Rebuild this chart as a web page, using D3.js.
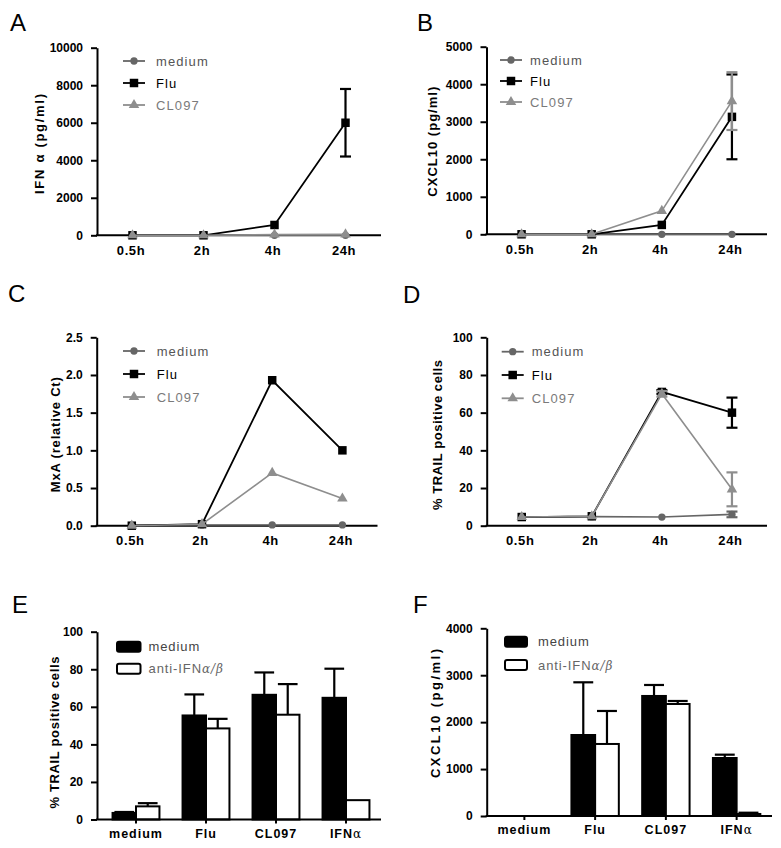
<!DOCTYPE html>
<html><head><meta charset="utf-8">
<script src="https://cdn.jsdelivr.net/npm/d3@7"></script>
<style>
html,body{margin:0;padding:0;background:#fff;}
svg{display:block;}
</style></head><body>
<svg id="fig" width="781" height="848"></svg>
<script>
// ---------- DATA ----------
const timepoints = ["0.5h", "2h", "4h", "24h"];
const lineSeriesNames = ["medium", "Flu", "CL097"];

// Panel A: IFN alpha (pg/ml)
const ifnMedium = [0, 0, 0, 0];
const ifnFlu = [0, 0, 550, 6000];
const ifnFluErr = [0, 0, 0, 1800];
const ifnCL097 = [0, 0, 40, 50];
const ifnTicks = [0, 2000, 4000, 6000, 8000, 10000];

// Panel B: CXCL10 (pg/ml)
const cxclMedium = [0, 0, 0, 0];
const cxclFlu = [0, 0, 250, 3130];
const cxclFluErr = [0, 0, 0, 1130];
const cxclCL097 = [0, 0, 625, 3550];
const cxclCL097Err = [0, 0, 0, 770];
const cxclTicks = [0, 1000, 2000, 3000, 4000, 5000];

// Panel C: MxA (relative Ct)
const mxaMedium = [0.005, 0.01, 0.01, 0.01];
const mxaFlu = [0, 0.02, 1.93, 1.0];
const mxaCL097 = [0, 0.02, 0.70, 0.36];
const mxaTicks = [0, 0.5, 1.0, 1.5, 2.0, 2.5];

// Panel D: % TRAIL positive cells
const trailMedium = [4.6, 4.8, 4.6, 6.0];
const trailMediumErr = [0, 0, 0, 1.5];
const trailFlu = [4.6, 5.0, 71, 60];
const trailFluErr = [0, 0, 1, 8];
const trailCL097 = [4.6, 5.0, 70, 19.3];
const trailCL097Err = [0, 0, 1.5, 9];
const pctTicks = [0, 20, 40, 60, 80, 100];

// Panels E, F: bar charts
const stimuli = ["medium", "Flu", "CL097", "IFNα"];
const treatments = ["medium", "anti-IFNα/β"];
const trailBarMedium = [3.5, 55.4, 66.4, 64.8];
const trailBarMediumErr = [0.5, 11.2, 11.9, 15.5];
const trailBarAnti = [7.0, 48.5, 55.8, 10.3];
const trailBarAntiErr = [1.7, 5.1, 16.3, 0];
const cxclBarMedium = [0, 1726, 2558, 1236];
const cxclBarMediumErr = [0, 1123, 234, 71];
const cxclBarAnti = [0, 1535, 2387, 43];
const cxclBarAntiErr = [0, 703, 64, 27];
const cxclBarTicks = [0, 1000, 2000, 3000, 4000];

// ---------- STYLE ----------
const FONT = '"Liberation Sans", Arial, Helvetica, sans-serif';
const COL = {medium: "#666666", Flu: "#000000", CL097: "#8e8e8e"};
const TXTCOL = {medium: "#555555", Flu: "#000000", CL097: "#7a7a7a"};
const SYM = {medium: d3.symbolCircle, Flu: d3.symbolSquare, CL097: d3.symbolTriangle};
const SYMSIZE = {medium: 42, Flu: 72, CL097: 48};

const svg = d3.select("#fig").attr("font-family", FONT);

function styleYAxis(g) {
  g.attr("font-family", FONT).attr("font-size", 12).attr("font-weight", "bold");
  g.select(".domain").attr("stroke", "#000").attr("stroke-width", 2);
  g.selectAll(".tick line").attr("stroke", "#000").attr("stroke-width", 2);
  g.selectAll(".tick text").attr("fill", "#000");
}

function drawYAxis(g, y, x0, ticks, fmt) {
  const a = g.append("g").attr("transform", `translate(${x0},0)`)
    .call(d3.axisLeft(y).tickValues(ticks).tickFormat(fmt).tickSize(6).tickSizeOuter(0).tickPadding(8));
  styleYAxis(a);
  return a;
}

function drawTitle(g, t) {
  g.append("text")
    .attr("transform", `translate(${t.x},${t.y}) rotate(-90)`)
    .attr("text-anchor", "middle")
    .attr("font-size", 13).attr("font-weight", "bold")
    .attr("textLength", t.len).attr("lengthAdjust", "spacing")
    .text(t.text);
}

function panelLetter(letter, x, y) {
  svg.append("text").attr("x", x).attr("y", y)
    .attr("font-size", 24).attr("fill", "#000").text(letter);
}

function linePanel(cfg) {
  const g = svg.append("g");
  const x = d3.scalePoint().domain(timepoints).range([cfg.x0, cfg.x1]).padding(0.5);
  const y = d3.scaleLinear().domain([0, cfg.max]).range([cfg.yBot, cfg.yTop]);

  drawYAxis(g, y, cfg.x0, cfg.ticks, cfg.fmt);

  const xa = g.append("g").attr("transform", `translate(0,${cfg.yBot})`)
    .call(d3.axisBottom(x).tickSize(0).tickPadding(10));
  xa.select(".domain").remove();
  xa.attr("font-family", FONT).attr("font-size", 13).attr("font-weight", "bold");
  xa.selectAll(".tick text").attr("fill", "#000").attr("dx", -2).attr("letter-spacing", "0.6px");
  g.append("line").attr("x1", cfg.x0 - 1).attr("x2", cfg.x1)
    .attr("y1", cfg.yBot).attr("y2", cfg.yBot)
    .attr("stroke", "#000").attr("stroke-width", 2);

  // series (medium, Flu, CL097 — CL097 drawn last / on top)
  cfg.series.forEach(s => {
    const pts = s.values.map((v, i) => ({t: timepoints[i], v, e: s.err ? s.err[i] : 0}));
    g.append("path").datum(pts)
      .attr("fill", "none").attr("stroke", COL[s.name])
      .attr("stroke-width", s.name === "Flu" ? 1.8 : 1.6)
      .attr("d", d3.line().x(d => x(d.t)).y(d => y(d.v)));
    const eb = pts.filter(d => d.e > 0);
    eb.forEach(d => {
      const cx = x(d.t);
      g.append("line").attr("x1", cx).attr("x2", cx)
        .attr("y1", y(d.v - d.e)).attr("y2", y(d.v + d.e))
        .attr("stroke", COL[s.name]).attr("stroke-width", 2.2);
      [d.v - d.e, d.v + d.e].forEach(val => {
        g.append("line").attr("x1", cx - 5.5).attr("x2", cx + 5.5)
          .attr("y1", y(val)).attr("y2", y(val))
          .attr("stroke", COL[s.name]).attr("stroke-width", 2.2);
      });
    });
    g.selectAll(null).data(pts).enter().append("path")
      .attr("transform", d => `translate(${x(d.t)},${y(d.v)})`)
      .attr("d", d3.symbol().type(SYM[s.name]).size(SYMSIZE[s.name]))
      .attr("fill", COL[s.name]);
  });

  // legend
  const L = cfg.legend;
  lineSeriesNames.forEach((n, i) => {
    const yy = L.y + i * L.dy;
    g.append("line").attr("x1", L.x).attr("x2", L.x + 22).attr("y1", yy).attr("y2", yy)
      .attr("stroke", COL[n]).attr("stroke-width", 1.8);
    g.append("path").attr("transform", `translate(${L.x + 11},${yy})`)
      .attr("d", d3.symbol().type(SYM[n]).size(SYMSIZE[n]))
      .attr("fill", COL[n]);
    g.append("text").attr("x", L.tx).attr("y", yy).attr("dy", "0.36em")
      .attr("font-size", 13).attr("letter-spacing", "1.1px")
      .attr("fill", TXTCOL[n]).text(n);
  });

  drawTitle(g, cfg.title);
}

function barPanel(cfg) {
  const g = svg.append("g");
  const x0 = d3.scaleBand().domain(stimuli).range(cfg.band).paddingInner(0.33).paddingOuter(0.165);
  const x1 = d3.scaleBand().domain(treatments).range([0, x0.bandwidth()]);
  const y = d3.scaleLinear().domain([0, cfg.max]).range([cfg.yBot, cfg.yTop]);

  drawYAxis(g, y, cfg.x0, cfg.ticks, d3.format("d"));

  const xa = g.append("g").attr("transform", `translate(0,${cfg.yBot})`)
    .call(d3.axisBottom(x0).tickSize(4).tickPadding(5.5).tickFormat(d => d === "IFNα" ? "IFN" : d));
  xa.select(".domain").remove();
  xa.attr("font-family", FONT).attr("font-size", 12.5).attr("font-weight", "bold");
  xa.selectAll(".tick line").attr("stroke", "#000").attr("stroke-width", 2);
  xa.selectAll(".tick text").attr("fill", "#000").attr("letter-spacing", "1px");
  xa.selectAll(".tick text").filter(d => d === "IFNα")
    .append("tspan").attr("font-family", "DejaVu Serif, serif").attr("font-weight", "normal")
    .attr("font-size", 12).text("α");

  const groups = stimuli.map((c, i) => ({
    c,
    bars: [
      {t: treatments[0], v: cfg.med[i], e: cfg.medErr[i], fill: "#000"},
      {t: treatments[1], v: cfg.anti[i], e: cfg.antiErr[i], fill: "#fff"}
    ]
  }));
  groups.forEach(gr => {
    gr.bars.forEach(b => {
      if (b.v <= 0) return;
      const bx = x0(gr.c) + x1(b.t);
      const bw = x1.bandwidth();
      if (b.e > 0) {
        const cx = bx + bw / 2;
        g.append("line").attr("x1", cx).attr("x2", cx)
          .attr("y1", y(b.v)).attr("y2", y(b.v + b.e))
          .attr("stroke", "#000").attr("stroke-width", 2.2);
        g.append("line").attr("x1", cx - bw * 0.42).attr("x2", cx + bw * 0.42)
          .attr("y1", y(b.v + b.e)).attr("y2", y(b.v + b.e))
          .attr("stroke", "#000").attr("stroke-width", 2.2);
      }
      g.append("rect").attr("x", bx).attr("y", y(b.v))
        .attr("width", bw).attr("height", cfg.yBot - y(b.v))
        .attr("fill", b.fill).attr("stroke", "#000").attr("stroke-width", 2);
    });
  });

  g.append("line").attr("x1", cfg.x0 - 1).attr("x2", cfg.x1)
    .attr("y1", cfg.yBot).attr("y2", cfg.yBot)
    .attr("stroke", "#000").attr("stroke-width", 2);

  // legend
  const L = cfg.legend;
  treatments.forEach((t, i) => {
    const yy = L.y + i * L.dy;
    g.append("rect").attr("x", L.x).attr("y", yy - 5).attr("width", L.w).attr("height", 10)
      .attr("rx", 2).attr("fill", i === 0 ? "#000" : "#fff")
      .attr("stroke", "#000").attr("stroke-width", 2);
    const tx = g.append("text").attr("x", L.tx).attr("y", yy).attr("dy", "0.36em")
      .attr("font-size", 13).attr("letter-spacing", "0.9px")
      .attr("fill", i === 0 ? "#444" : "#666");
    if (i === 0) tx.text(t);
    else {
      tx.append("tspan").text("anti-IFN");
      tx.append("tspan").attr("font-style", "italic").attr("font-family", "DejaVu Serif, serif")
        .attr("font-size", 12).text("α/β");
    }
  });

  drawTitle(g, cfg.title);
}

// ---------- PANELS ----------
panelLetter("A", 10, 30.7);
linePanel({
  x0: 97, x1: 381, yTop: 47.7, yBot: 235.3, max: 10000, ticks: ifnTicks, fmt: d3.format("d"),
  series: [
    {name: "medium", values: ifnMedium},
    {name: "Flu", values: ifnFlu, err: ifnFluErr},
    {name: "CL097", values: ifnCL097}
  ],
  legend: {x: 123, tx: 156, y: 61, dy: 22},
  title: {text: "IFN α (pg/ml)", x: 44, y: 144, len: 100}
});

panelLetter("B", 417, 30.7);
linePanel({
  x0: 486.5, x1: 767, yTop: 46.7, yBot: 234.3, max: 5000, ticks: cxclTicks, fmt: d3.format("d"),
  series: [
    {name: "medium", values: cxclMedium},
    {name: "Flu", values: cxclFlu, err: cxclFluErr},
    {name: "CL097", values: cxclCL097, err: cxclCL097Err}
  ],
  legend: {x: 500, tx: 530, y: 60, dy: 21},
  title: {text: "CXCL10 (pg/ml)", x: 437, y: 141.7, len: 110}
});

panelLetter("C", 8, 301.7);
linePanel({
  x0: 96.7, x1: 377.5, yTop: 337.3, yBot: 525.7, max: 2.5, ticks: mxaTicks, fmt: d3.format(".1f"),
  series: [
    {name: "medium", values: mxaMedium},
    {name: "Flu", values: mxaFlu},
    {name: "CL097", values: mxaCL097}
  ],
  legend: {x: 123, tx: 156.7, y: 351, dy: 23},
  title: {text: "MxA (relative Ct)", x: 60, y: 434.7, len: 115}
});

panelLetter("D", 403, 303);
linePanel({
  x0: 486.7, x1: 767, yTop: 337.3, yBot: 525.7, max: 100, ticks: pctTicks, fmt: d3.format("d"),
  series: [
    {name: "medium", values: trailMedium, err: trailMediumErr},
    {name: "Flu", values: trailFlu, err: trailFluErr},
    {name: "CL097", values: trailCL097, err: trailCL097Err}
  ],
  legend: {x: 501.7, tx: 531.7, y: 351.7, dy: 23.3},
  title: {text: "% TRAIL positive cells", x: 442, y: 435, len: 150}
});

panelLetter("E", 12, 613);
barPanel({
  x0: 97, x1: 381, band: [101, 381], yTop: 631.7, yBot: 819.5, max: 100, ticks: pctTicks,
  med: trailBarMedium, medErr: trailBarMediumErr, anti: trailBarAnti, antiErr: trailBarAntiErr,
  legend: {x: 117, w: 23.5, tx: 148.5, y: 646.7, dy: 22},
  title: {text: "% TRAIL positive cells", x: 59, y: 732.5, len: 152}
});

panelLetter("F", 413, 613);
barPanel({
  x0: 486.7, x1: 772, band: [489, 772], yTop: 628.3, yBot: 816, max: 4000, ticks: cxclBarTicks,
  med: cxclBarMedium, medErr: cxclBarMediumErr, anti: cxclBarAnti, antiErr: cxclBarAntiErr,
  legend: {x: 505, w: 22, tx: 538, y: 641.7, dy: 23.3},
  title: {text: "CXCL10 (pg/ml)", x: 440, y: 713.5, len: 129}
});
</script>
</body></html>
